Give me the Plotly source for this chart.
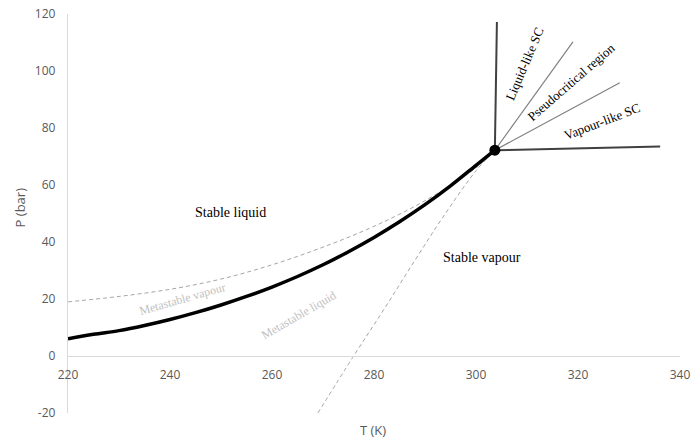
import plotly.graph_objects as go

# Saturation curve (thick black)
sat_T = [220, 225, 230, 235, 240, 245, 250, 255, 260, 265, 270, 275, 280, 285, 290, 295, 300, 303.7]
sat_P = [6.0, 7.6, 8.9, 10.7, 12.8, 15.2, 17.9, 20.9, 24.2, 27.9, 32.0, 36.6, 41.6, 47.1, 53.1, 59.7, 66.9, 72.2]

# Metastable vapour (dashed, upper)
mv_T = [220, 230, 240, 250, 260, 270, 280, 290, 300, 303.7]
mv_P = [19.0, 20.9, 23.4, 27.0, 32.0, 38.2, 45.5, 54.5, 66.0, 72.2]

# Metastable liquid (dashed, lower)
ml_T = [269.0, 276.0, 282.0, 288.0, 294.0, 300.0, 303.7]
ml_P = [-20.0, 0.0, 16.5, 33.5, 50.0, 65.0, 72.2]

# Critical point
cp_T = [303.7]
cp_P = [72.2]

# Supercritical boundary lines (end points)
sc_outer_T = [[303.7, 304.1], [303.7, 336.1]]
sc_outer_P = [[72.2, 117.2], [72.2, 73.5]]
sc_inner_T = [[303.7, 319.0], [303.7, 328.2]]
sc_inner_P = [[72.2, 110.2], [72.2, 95.9]]

# Region labels: text, T, P, angle, colour, size
labels = [
    ("Stable liquid", 251.8, 50.4, 0, "#000000", 14),
    ("Stable vapour", 301.2, 34.6, 0, "#000000", 14),
    ("Metastable vapour", 242.4, 19.9, -16, "#bfbfbf", 12),
    ("Metastable liquid", 265.3, 14.3, -30, "#bfbfbf", 12),
    ("Liquid-like SC", 309.6, 102.5, -67, "#000000", 13),
    ("Pseudocritical region", 318.8, 96.2, -41, "#000000", 13),
    ("Vapour-like SC", 324.7, 82.3, -21, "#000000", 13),
]

x_ticks = [220, 240, 260, 280, 300, 320, 340]
y_ticks = [-20, 0, 20, 40, 60, 80, 100, 120]
y_tick_text = ["-20", "0", "20", "40", "60", "80", "100", "120"]

fig = go.Figure()

fig.add_trace(go.Scatter(x=mv_T, y=mv_P, mode="lines", line=dict(color="#a6a6a6", width=1, dash="4px,3px"),
                         line_shape="spline", hoverinfo="skip"))
fig.add_trace(go.Scatter(x=ml_T, y=ml_P, mode="lines", line=dict(color="#a6a6a6", width=1, dash="4px,3px"),
                         line_shape="spline", hoverinfo="skip"))
for tt, pp in zip(sc_inner_T, sc_inner_P):
    fig.add_trace(go.Scatter(x=tt, y=pp, mode="lines", line=dict(color="#808080", width=1.2)))
for tt, pp in zip(sc_outer_T, sc_outer_P):
    fig.add_trace(go.Scatter(x=tt, y=pp, mode="lines", line=dict(color="#404040", width=2)))
fig.add_trace(go.Scatter(x=sat_T, y=sat_P, mode="lines", line=dict(color="#000000", width=3.5),
                         line_shape="spline"))
fig.add_trace(go.Scatter(x=cp_T, y=cp_P, mode="markers", marker=dict(color="#000000", size=11)))

for text, tx, ty, ang, col, sz in labels:
    fig.add_annotation(x=tx, y=ty, text=text, showarrow=False, textangle=ang,
                       font=dict(family="Liberation Serif", size=sz, color=col))

fig.add_annotation(xref="paper", yref="paper", x=0.498, y=-0.043, text="T (K)", showarrow=False,
                   xanchor="center", yanchor="middle",
                   font=dict(family="Open Sans", size=13, color="#595959"))
fig.add_annotation(xref="paper", yref="paper", x=-0.078, y=0.516, text="P (bar)", showarrow=False,
                   xanchor="center", yanchor="middle",
                   textangle=-90, font=dict(family="Open Sans", size=13, color="#595959"))

fig.update_layout(
    width=692, height=439,
    margin=dict(l=68, r=12, t=14, b=26, autoexpand=False),
    paper_bgcolor="white", plot_bgcolor="white",
    showlegend=False,
    font=dict(family="Open Sans", size=12, color="#595959"),
    xaxis=dict(range=[220, 340], tickvals=x_ticks, showgrid=False, zeroline=False,
               showline=True, linecolor="#d9d9d9", linewidth=1.3, ticks="",
               anchor="free", position=20 / 140, ticklabelstandoff=7, automargin=False,
               tickfont=dict(family="Open Sans", size=12, color="#595959")),
    yaxis=dict(range=[-20, 120], tickvals=y_ticks, ticktext=y_tick_text, showgrid=False, zeroline=False,
               showline=True, linecolor="#d9d9d9", linewidth=1.3, ticks="",
               ticklabelstandoff=9, automargin=False,
               tickfont=dict(family="Open Sans", size=12, color="#595959")),
)

fig.write_html("out.html", config={"displayModeBar": False},
               post_script="document.body.style.margin='0';document.body.style.overflow='hidden';")
